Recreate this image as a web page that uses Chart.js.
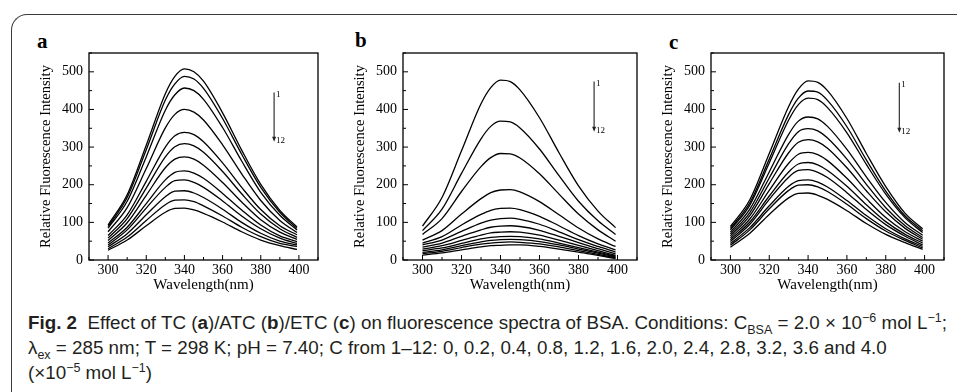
<!DOCTYPE html>
<html>
<head>
<meta charset="utf-8">
<script src="https://cdn.jsdelivr.net/npm/chart.js@4.4.1/dist/chart.umd.min.js"></script>
<style>
  body { margin: 0; width: 957px; height: 392px; background: #fff; position: relative; overflow: hidden; }
  .frame { position: absolute; left: 11px; top: 14px; width: 980px; height: 420px;
           border-left: 1.5px solid #3a3a3a; border-top: 1.5px solid #3a3a3a; border-top-left-radius: 16px; }
  canvas { position: absolute; }
  .tag { position: absolute; font: bold 21px "Liberation Serif", serif; line-height: 1; }
  .caption { position: absolute; left: 28px; top: 310px; font: 18.8px "Liberation Sans", sans-serif;
             line-height: 25px; color: #231f20; white-space: nowrap; }
  .caption sub, .caption sup { font-size: 12.5px; line-height: 0; }
</style>
</head>
<body>
<div class="frame"></div>

<div class="tag" style="left:37px;top:31px">a</div>
<div class="tag" style="left:355px;top:30px">b</div>
<div class="tag" style="left:669px;top:32px">c</div>

<canvas id="chartA" width="300" height="270" style="left:30px;top:30px"></canvas>
<canvas id="chartB" width="305" height="270" style="left:344px;top:30px"></canvas>
<canvas id="chartC" width="304" height="270" style="left:652px;top:30px"></canvas>

<div class="caption">
  <b>Fig. 2</b>&nbsp; Effect of TC (<b>a</b>)/ATC (<b>b</b>)/ETC (<b>c</b>) on fluorescence spectra of BSA. Conditions: C<sub>BSA</sub> = 2.0 × 10<sup>−6</sup> mol L<sup>−1</sup>;<br>
  λ<sub>ex</sub> = 285 nm; T = 298 K; pH = 7.40; C from 1–12: 0, 0.2, 0.4, 0.8, 1.2, 1.6, 2.0, 2.4, 2.8, 3.2, 3.6 and 4.0<br>
  (×10<sup>−5</sup> mol L<sup>−1</sup>)
</div>

<script>
// wavelength (nm) sampled for every curve
const wavelength = [300, 310, 320, 330, 335, 340, 345, 350, 360, 370, 380, 390, 399];

// axis ticks
const xTicks = [300, 320, 340, 360, 380, 400];
const xMinor = [290, 310, 330, 350, 370, 390, 410];
const yTicks = [0, 100, 200, 300, 400, 500];
const yMinor = [50, 150, 250, 350, 450, 550];

const xTitle = 'Wavelength(nm)';
const yTitle = 'Relative Fluorescence Intensity';

// panel a: TC, curves 1..12
const curvesA = [
    [93, 173, 305, 442, 488, 508, 500, 475, 391, 292, 201, 132, 88],
    [89, 166, 293, 425, 468, 488, 481, 456, 376, 281, 193, 127, 84],
    [85, 156, 274, 398, 439, 457, 450, 427, 352, 263, 180, 119, 80],
    [75, 139, 243, 351, 387, 400, 393, 372, 306, 229, 158, 105, 73],
    [65, 120, 209, 300, 330, 339, 333, 314, 258, 193, 134, 91, 67],
    [58, 110, 191, 274, 301, 309, 303, 286, 235, 176, 122, 83, 60],
    [52, 99, 172, 245, 268, 274, 268, 252, 206, 154, 107, 74, 55],
    [45, 87, 150, 213, 233, 237, 231, 217, 177, 133, 93, 64, 49],
    [40, 80, 138, 193, 211, 213, 206, 193, 157, 117, 83, 58, 44],
    [35, 70, 120, 168, 183, 184, 178, 166, 135, 100, 71, 50, 40],
    [30, 61, 105, 147, 159, 160, 155, 144, 117, 87, 62, 44, 36],
    [26, 53, 91, 127, 137, 138, 133, 124, 101, 75, 53, 38, 28]
];

// panel b: ATC
const curvesB = [
    [90, 166, 290, 415, 458, 478, 474, 452, 378, 285, 197, 130, 86],
    [78, 135, 230, 322, 355, 369, 367, 351, 295, 224, 156, 104, 68],
    [68, 110, 182, 248, 272, 283, 282, 271, 229, 175, 122, 80, 50],
    [53, 78, 122, 163, 179, 186, 187, 181, 155, 120, 85, 56, 36],
    [45, 62, 93, 121, 132, 137, 138, 134, 116, 91, 65, 43, 27],
    [40, 53, 76, 98, 106, 110, 111, 108, 95, 75, 54, 36, 21],
    [34, 45, 63, 80, 87, 90, 91, 89, 79, 63, 46, 30, 16],
    [29, 38, 52, 66, 72, 74, 75, 74, 66, 53, 39, 25, 12],
    [25, 32, 44, 56, 60, 62, 63, 62, 56, 45, 33, 21, 10],
    [20, 27, 38, 48, 52, 54, 55, 54, 49, 40, 29, 18, 8],
    [17, 23, 33, 42, 45, 47, 48, 47, 43, 35, 25, 15, 6],
    [13, 19, 27, 35, 38, 39, 40, 40, 36, 29, 21, 12, 4]
];

// panel c: ETC
const curvesC = [
    [89, 160, 283, 408, 454, 476, 472, 450, 376, 283, 195, 124, 83],
    [84, 152, 268, 387, 430, 449, 446, 424, 354, 266, 183, 117, 78],
    [80, 146, 258, 372, 413, 430, 426, 405, 338, 254, 175, 112, 73],
    [74, 135, 234, 334, 369, 380, 375, 355, 294, 221, 153, 99, 66],
    [69, 126, 218, 309, 341, 349, 343, 324, 268, 201, 139, 91, 60],
    [64, 118, 203, 285, 313, 320, 314, 297, 245, 184, 128, 84, 55],
    [59, 109, 185, 257, 281, 286, 280, 264, 217, 163, 113, 75, 50],
    [54, 101, 170, 234, 255, 259, 253, 238, 196, 147, 102, 68, 45],
    [49, 95, 161, 220, 238, 240, 233, 219, 179, 134, 94, 63, 40],
    [44, 86, 144, 196, 211, 213, 207, 194, 158, 118, 83, 56, 36],
    [39, 80, 136, 185, 199, 200, 194, 182, 148, 110, 77, 52, 32],
    [34, 71, 121, 165, 177, 178, 172, 161, 131, 97, 68, 46, 28]
];

const serif = '"Liberation Serif", "Times New Roman", serif';

// box, inward ticks, axis titles and the 1 -> 12 arrow
const decor = {
    id: 'decor',
    afterDraw(chart, args, opts) {
        const ctx = chart.ctx;
        const a = chart.chartArea;
        const xs = chart.scales.x, ys = chart.scales.y;
        ctx.save();
        ctx.strokeStyle = '#000';
        ctx.lineWidth = 1.3;
        ctx.strokeRect(a.left, a.top, a.right - a.left, a.bottom - a.top);

        ctx.lineWidth = 1;
        ctx.beginPath();
        xTicks.forEach(v => { const p = xs.getPixelForValue(v); ctx.moveTo(p, a.bottom); ctx.lineTo(p, a.bottom - 5); });
        xMinor.forEach(v => { const p = xs.getPixelForValue(v); ctx.moveTo(p, a.bottom); ctx.lineTo(p, a.bottom - 3); });
        yTicks.forEach(v => { const p = ys.getPixelForValue(v); ctx.moveTo(a.left, p); ctx.lineTo(a.left + 5, p); });
        yMinor.forEach(v => { const p = ys.getPixelForValue(v); ctx.moveTo(a.left, p); ctx.lineTo(a.left + 3, p); });
        ctx.stroke();

        // axis titles
        ctx.fillStyle = '#000';
        ctx.textAlign = 'center';
        ctx.textBaseline = 'middle';
        ctx.font = '15px ' + serif;
        ctx.fillText(xTitle, (a.left + a.right) / 2, a.bottom + 25);
        ctx.save();
        ctx.font = '14.5px ' + serif;
        ctx.translate(a.left - 43, (a.top + a.bottom) / 2);
        ctx.rotate(-Math.PI / 2);
        ctx.fillText(yTitle, 0, 0);
        ctx.restore();

        // arrow
        const ar = opts.arrow;
        const ax = xs.getPixelForValue(ar.x);
        const y1 = ys.getPixelForValue(ar.from), y2 = ys.getPixelForValue(ar.to);
        ctx.strokeStyle = '#333';
        ctx.lineWidth = 1.2;
        ctx.beginPath();
        ctx.moveTo(ax, y1);
        ctx.lineTo(ax, y2 - 4);
        ctx.stroke();
        ctx.fillStyle = '#222';
        ctx.beginPath();
        ctx.moveTo(ax - 2, y2 - 5);
        ctx.lineTo(ax + 2, y2 - 5);
        ctx.lineTo(ax, y2);
        ctx.closePath();
        ctx.fill();
        ctx.font = '9px ' + serif;
        ctx.fillStyle = '#000';
        ctx.textAlign = 'left';
        ctx.fillText('1', ax + 2, y1 + 2);
        ctx.fillText('12', ax + 2, y2 - 1);
        ctx.restore();
    }
};

function makePanel(id, curves, arrow) {
    new Chart(document.getElementById(id), {
        type: 'line',
        data: {
            datasets: curves.map((c, i) => ({
                label: String(i + 1),
                data: wavelength.map((w, j) => ({ x: w, y: c[j] })),
                borderColor: '#000',
                borderWidth: 1.3,
                pointRadius: 0,
                fill: false,
                cubicInterpolationMode: 'monotone'
            }))
        },
        options: {
            responsive: false,
            animation: false,
            events: [],
            layout: { padding: { top: 23, right: 12, left: 0, bottom: 0 } },
            plugins: {
                legend: { display: false },
                tooltip: { enabled: false },
                decor: { arrow: arrow }
            },
            scales: {
                x: {
                    type: 'linear',
                    min: 290,
                    max: 410,
                    grid: { display: false, drawTicks: false },
                    border: { display: false },
                    afterBuildTicks: s => { s.ticks = xTicks.map(v => ({ value: v })); },
                    afterFit: s => { s.height = 40; },
                    ticks: { color: '#000', padding: 2, maxRotation: 0, font: { family: serif, size: 14 } }
                },
                y: {
                    min: 0,
                    max: 550,
                    grid: { display: false, drawTicks: false },
                    border: { display: false },
                    afterBuildTicks: s => { s.ticks = yTicks.map(v => ({ value: v })); },
                    afterFit: s => { s.width = 59; },
                    ticks: { color: '#000', padding: 6, font: { family: serif, size: 14 } }
                }
            }
        },
        plugins: [decor]
    });
}

makePanel('chartA', curvesA, { x: 387, from: 445, to: 314 });
makePanel('chartB', curvesB, { x: 388, from: 474, to: 341 });
makePanel('chartC', curvesC, { x: 387, from: 471, to: 338 });
</script>
</body>
</html>
